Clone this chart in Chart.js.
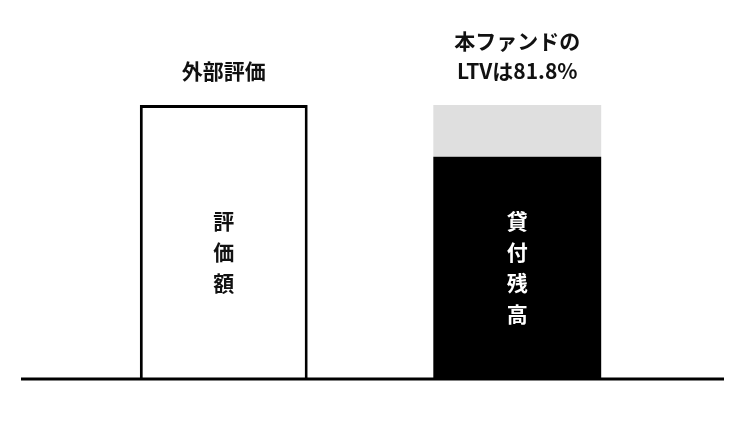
<!DOCTYPE html>
<html lang="ja">
<head>
<meta charset="utf-8">
<title>LTV</title>
<script src="https://cdn.jsdelivr.net/npm/chart.js@4.4.1/dist/chart.umd.min.js"></script>
<style>
    html, body { margin: 0; padding: 0; background: #fff; }
    #wrap { position: relative; width: 750px; height: 422px; }
</style>
</head>
<body>
<div id="wrap"><canvas id="ltvChart"></canvas></div>
<script>
const categories = [['外部評価'], ['本ファンドの', 'LTVは81.8%']];
const valuation = [100, null];
const loanBalance = [null, 81];
const remainder = [null, 19];
const barTexts = ['評価額', '貸付残高'];
const barTextColors = ['#111', '#fff'];

const FONT = '"Noto Sans CJK JP", "Noto Sans", sans-serif';

// baseline runs wider than the bars' plot area
const baselinePlugin = {
    id: 'baseline',
    afterDatasetsDraw(chart) {
        const { ctx, chartArea, scales } = chart;
        const y = scales.y.getPixelForValue(0) + 1;
        ctx.save();
        ctx.strokeStyle = '#000';
        ctx.lineWidth = 3;
        ctx.beginPath();
        ctx.moveTo(chartArea.left - 56, y);
        ctx.lineTo(chartArea.right + 60, y);
        ctx.stroke();
        ctx.restore();
    },
};

// vertical text inside each bar, one character per line
const barTextPlugin = {
    id: 'barText',
    afterDatasetsDraw(chart) {
        const { ctx } = chart;
        const lineGap = 31;
        const loanBar = chart.getDatasetMeta(1).data[1];
        const loanChars = [...barTexts[1]];
        const top = (loanBar.y + loanBar.base) / 2 - (loanChars.length - 1) / 2 * lineGap;
        const bars = [chart.getDatasetMeta(0).data[0], loanBar];

        ctx.save();
        ctx.font = 'bold 21px ' + FONT;
        ctx.textAlign = 'center';
        ctx.textBaseline = 'middle';
        bars.forEach((bar, i) => {
            ctx.fillStyle = barTextColors[i];
            [...barTexts[i]].forEach((ch, j) => {
                ctx.fillText(ch, bar.x, top + j * lineGap);
            });
        });
        ctx.restore();
    },
};

new Chart(document.getElementById('ltvChart'), {
    type: 'bar',
    data: {
        labels: categories,
        datasets: [
            {
                label: '評価額',
                data: valuation,
                backgroundColor: '#fff',
                borderColor: '#000',
                borderWidth: 3,
            },
            {
                label: '貸付残高',
                data: loanBalance,
                backgroundColor: '#000',
                borderWidth: 0,
            },
            {
                label: 'その他',
                data: remainder,
                backgroundColor: '#dfdfdf',
                borderWidth: 0,
            },
        ],
    },
    options: {
        responsive: true,
        maintainAspectRatio: false,
        animation: false,
        layout: {
            padding: { left: 77, right: 86, top: 0, bottom: 44 },
        },
        datasets: {
            bar: { categoryPercentage: 1, barPercentage: 0.572 },
        },
        plugins: {
            legend: { display: false },
            tooltip: { enabled: false },
        },
        scales: {
            x: {
                stacked: true,
                position: 'top',
                grid: { display: false },
                border: { display: false },
                afterFit(scale) { scale.height = 105; },
                ticks: {
                    color: '#111',
                    padding: 11,
                    maxRotation: 0,
                    autoSkip: false,
                    font: { family: FONT, size: 21, weight: 'bold', lineHeight: 1.42 },
                },
            },
            y: {
                stacked: true,
                display: false,
                min: 0,
                max: 100,
            },
        },
    },
    plugins: [baselinePlugin, barTextPlugin],
});
</script>
</body>
</html>
